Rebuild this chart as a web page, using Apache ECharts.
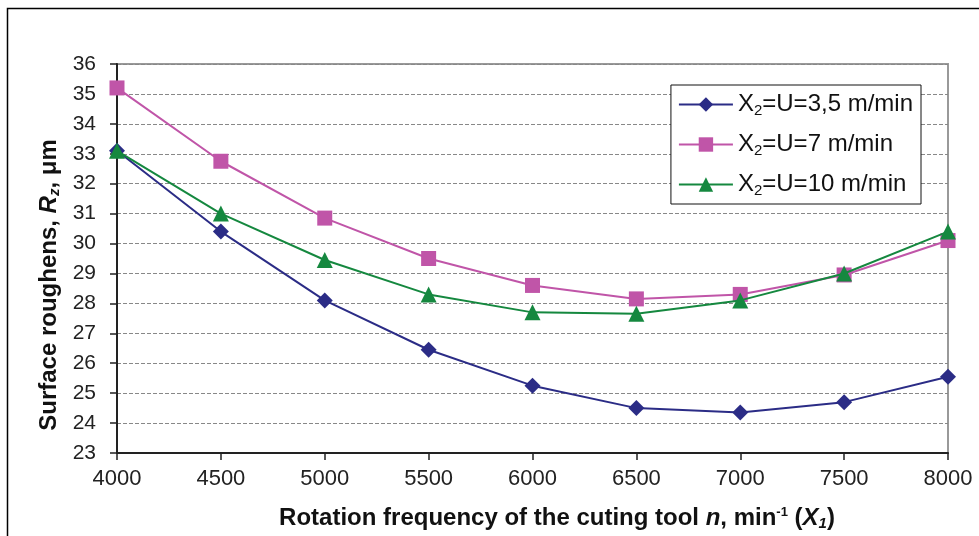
<!DOCTYPE html>
<html>
<head>
<meta charset="utf-8">
<script src="https://cdn.jsdelivr.net/npm/echarts@6/dist/echarts.min.js"></script>
</head>
<body style="margin:0;background:#fff;">
<div id="main" style="width:979px;height:536px;"></div>
<script type="text/javascript">
// rotation frequency n, min-1
var rpm = [4000, 4500, 5000, 5500, 6000, 6500, 7000, 7500, 8000];
// surface roughness Rz, um
var u35 = [33.1, 30.4, 28.1, 26.45, 25.25, 24.5, 24.35, 24.7, 25.55];
var u7 = [35.2, 32.75, 30.85, 29.5, 28.6, 28.15, 28.3, 28.95, 30.1];
var u10 = [33.1, 31.0, 29.45, 28.3, 27.7, 27.65, 28.1, 29.0, 30.4];
var seriesNames = ['X2=U=3,5 m/min', 'X2=U=7 m/min', 'X2=U=10 m/min'];

function pairs(ys) {
    return rpm.map(function (x, i) { return [x, ys[i]]; });
}

var myChart = echarts.init(document.getElementById('main'));
var font = 'Liberation Sans, Arial, sans-serif';

// rich styles for the axis titles
var titleRich = {
    b: { fontSize: 24, fontWeight: 'bold', fill: '#111', fontFamily: font, lineHeight: 30 },
    i: { fontSize: 24, fontWeight: 'bold', fontStyle: 'italic', fill: '#111', fontFamily: font, lineHeight: 30 },
    sp: { fontSize: 13, fontWeight: 'bold', fill: '#111', fontFamily: font, lineHeight: 30, padding: [0, 0, 12, 0] },
    sb: { fontSize: 15, fontWeight: 'bold', fontStyle: 'italic', fill: '#111', fontFamily: font, lineHeight: 30, padding: [12, 0, 0, 0] }
};

var option = {
    textStyle: { fontFamily: font },
    graphic: [{
        type: 'rect',
        shape: { x: 7.5, y: 8.5, width: 1000, height: 600 },
        style: { fill: 'none', stroke: '#000', lineWidth: 1.5 },
        silent: true
    }, {
        type: 'text',
        x: 49, y: 285,
        rotation: Math.PI / 2,
        style: {
            text: '{b|Surface roughens, }{i|R}{sb|z}{b|, μm}',
            rich: titleRich,
            align: 'center', verticalAlign: 'middle'
        }
    }, {
        type: 'text',
        x: 557, y: 518,
        style: {
            text: '{b|Rotation frequency of the cuting tool }{i|n}{b|, min}{sp|-1}{b| (}{i|X}{sb|1}{b|)}',
            rich: titleRich,
            align: 'center', verticalAlign: 'middle'
        }
    }],
    grid: {
        left: 117, top: 64, right: 31, bottom: 83,
        show: true, borderColor: '#999', borderWidth: 2, backgroundColor: '#fff'
    },
    legend: {
        right: 58, top: 85,
        orient: 'vertical',
        backgroundColor: '#fff',
        borderColor: '#111', borderWidth: 1,
        padding: [6, 8, 6, 7],
        itemGap: 13,
        itemWidth: 54, itemHeight: 18,
        data: seriesNames,
        formatter: function (name) {
            return '{t|X}{s|2}{t|' + name.slice(2) + '}';
        },
        textStyle: {
            rich: {
                t: { fontSize: 24, color: '#111', fontFamily: font, lineHeight: 28 },
                s: { fontSize: 15, color: '#111', fontFamily: font, lineHeight: 28, padding: [12, 0, 0, 0] }
            }
        }
    },
    xAxis: {
        type: 'value',
        min: 4000, max: 8000, interval: 500,
        axisLine: { show: true, lineStyle: { color: '#222', width: 2 } },
        axisTick: { show: true, length: 7, lineStyle: { color: '#222', width: 1.5 } },
        axisLabel: { fontSize: 22, color: '#222', margin: 15, formatter: function (v) { return String(v); } },
        splitLine: { show: false }
    },
    yAxis: {
        type: 'value',
        min: 23, max: 36, interval: 1,
        axisLine: { show: true, lineStyle: { color: '#222', width: 2 } },
        axisTick: { show: true, length: 7, lineStyle: { color: '#222', width: 1.5 } },
        axisLabel: { fontSize: 21, color: '#222', margin: 21 },
        splitLine: { show: true, lineStyle: { color: '#888', type: [4, 2], width: 1 } }
    },
    series: [{
        name: seriesNames[0],
        type: 'line',
        data: pairs(u35),
        symbol: 'diamond', symbolSize: 16,
        itemStyle: { color: '#2b2c86' },
        lineStyle: { color: '#2b2c86', width: 2 },
        z: 4
    }, {
        name: seriesNames[1],
        type: 'line',
        data: pairs(u7),
        symbol: 'rect', symbolSize: 15,
        itemStyle: { color: '#c055a8' },
        lineStyle: { color: '#c055a8', width: 2 },
        z: 3
    }, {
        name: seriesNames[2],
        type: 'line',
        data: pairs(u10),
        symbol: 'triangle', symbolSize: 16,
        itemStyle: { color: '#15883f' },
        lineStyle: { color: '#15883f', width: 2 },
        z: 5
    }]
};

myChart.setOption(option);
</script>
</body>
</html>
